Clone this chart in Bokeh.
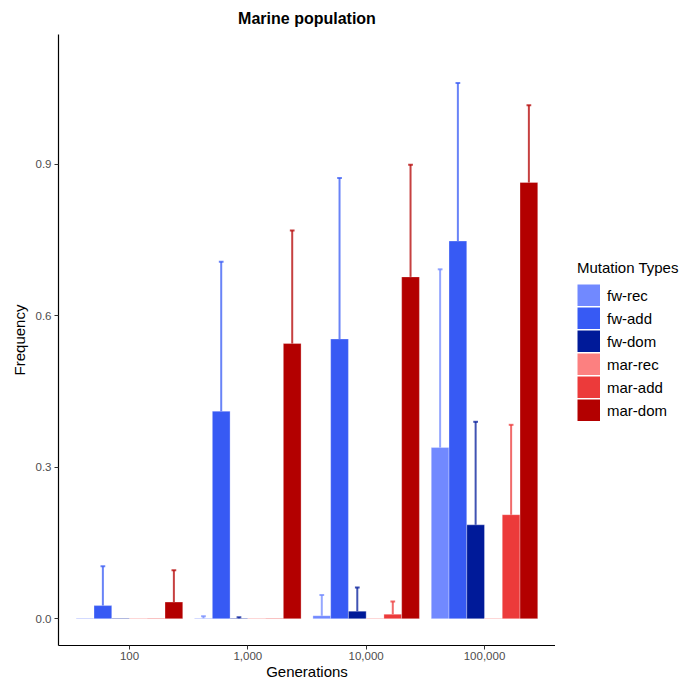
from bokeh.plotting import figure
from bokeh.layouts import row
from bokeh.models import Range1d, FixedTicker, ColumnDataSource, Legend, LegendItem
from bokeh.embed import file_html
from bokeh.resources import INLINE

# ---------------- data ----------------
generations = ["100", "1,000", "10,000", "100,000"]
types = ["fw-rec", "fw-add", "fw-dom", "mar-rec", "mar-add", "mar-dom"]
colors = ["#7189ff", "#375af4", "#001a99", "#fc8080", "#ec3a3a", "#b30000"]

fw_rec_mean = [0.001, 0.001, 0.006, 0.339]
fw_rec_sd = [0.0, 0.004, 0.041, 0.353]
fw_add_mean = [0.026, 0.411, 0.554, 0.748]
fw_add_sd = [0.078, 0.296, 0.319, 0.313]
fw_dom_mean = [0.001, 0.001, 0.015, 0.186]
fw_dom_sd = [0.0, 0.002, 0.047, 0.204]
mar_rec_mean = [0.001, 0.001, 0.001, 0.001]
mar_rec_sd = [0.0, 0.0, 0.0, 0.0]
mar_add_mean = [0.001, 0.001, 0.009, 0.206]
mar_add_sd = [0.0, 0.0, 0.025, 0.178]
mar_dom_mean = [0.033, 0.545, 0.677, 0.864]
mar_dom_sd = [0.063, 0.224, 0.222, 0.153]

means = [fw_rec_mean, fw_add_mean, fw_dom_mean, mar_rec_mean, mar_add_mean, mar_dom_mean]
sds = [fw_rec_sd, fw_add_sd, fw_dom_sd, mar_rec_sd, mar_add_sd, mar_dom_sd]

y_ticks = [0.0, 0.3, 0.6, 0.9]

FONT = "Liberation Sans"

# ---------------- main figure ----------------
p = figure(width=555, height=682, output_backend="svg", toolbar_location=None,
           x_range=Range1d(0.4, 4.6), y_range=Range1d(-0.053, 1.157),
           min_border_left=58, min_border_right=0, min_border_top=34,
           min_border_bottom=36, title="Marine population")
p.outline_line_color = None
p.xgrid.visible = False
p.ygrid.visible = False
p.background_fill_color = "white"

p.title.text_font = FONT
p.title.text_font_size = "16px"
p.title.text_font_style = "bold"
p.title.text_color = "black"
p.title.align = "center"
p.title.standoff = 15

n_types = len(types)
bar_w = 0.9 / n_types
group_x = list(range(1, len(generations) + 1))

sources = []
for i, t in enumerate(types):
    off = (i - (n_types - 1) / 2) * bar_w
    xs = [g + off for g in group_x]
    src = ColumnDataSource(dict(x=xs, top=means[i]))
    sources.append(src)
    p.vbar(x="x", top="top", bottom=0, width=bar_w, source=src,
           fill_color=colors[i], line_color="white", line_width=0.6, line_alpha=0.5)

for i, t in enumerate(types):
    off = (i - (n_types - 1) / 2) * bar_w
    ex, e0, e1 = [], [], []
    for g, m, s in zip(group_x, means[i], sds[i]):
        if s > 0:
            ex.append(g + off)
            e0.append(m)
            e1.append(m + s)
    if not ex:
        continue
    esrc = ColumnDataSource(dict(x=ex, y0=e0, y1=e1,
                                 xl=[x - 0.02 for x in ex], xr=[x + 0.02 for x in ex]))
    p.segment(x0="x", y0="y0", x1="x", y1="y1", source=esrc,
              line_color=colors[i], line_alpha=0.75, line_width=2)
    p.segment(x0="xl", y0="y1", x1="xr", y1="y1", source=esrc,
              line_color=colors[i], line_alpha=0.75, line_width=2)

# ---------------- axes ----------------
p.xaxis.ticker = FixedTicker(ticks=group_x)
p.xaxis.major_label_overrides = {g: lab for g, lab in zip(group_x, generations)}
p.yaxis.ticker = FixedTicker(ticks=y_ticks)
p.yaxis.major_label_overrides = {v: f"{v:.1f}" for v in y_ticks}

for ax in (p.xaxis, p.yaxis):
    ax.axis_line_color = "black"
    ax.axis_line_width = 1.2
    ax.major_tick_line_color = "#333333"
    ax.major_tick_in = 0
    ax.major_tick_out = 4
    ax.minor_tick_line_color = None
    ax.major_label_text_font = FONT
    ax.major_label_text_font_size = "11.5px"
    ax.major_label_text_color = "#4d4d4d"
    ax.axis_label_text_font = FONT
    ax.axis_label_text_font_size = "15px"
    ax.axis_label_text_font_style = "normal"
    ax.axis_label_text_color = "black"

p.xaxis.major_label_standoff = 2
p.yaxis.major_label_standoff = 3
p.xaxis.axis_label = "Generations"
p.xaxis.axis_label_standoff = 0
p.yaxis.axis_label = "Frequency"
p.yaxis.axis_label_standoff = 5

# ---------------- legend panel ----------------
lf = figure(width=124, height=682, output_backend="svg", toolbar_location=None,
            x_range=Range1d(100, 101), y_range=Range1d(100, 101),
            x_axis_location=None, y_axis_location=None,
            min_border_left=0, min_border_right=0, min_border_top=0, min_border_bottom=0)
lf.outline_line_color = None
lf.xgrid.visible = False
lf.ygrid.visible = False

items = []
for i, t in enumerate(types):
    # thick line renderer (outside the view) gives solid, full-size legend keys
    r = lf.line(x="x", y="top", source=sources[i], line_color=colors[i],
                line_width=22, line_cap="butt")
    items.append(LegendItem(label=t, renderers=[r]))

legend = Legend(items=items, location=(22, 224), title="Mutation Types")
legend.title_text_font = FONT
legend.title_text_font_size = "15px"
legend.title_text_font_style = "normal"
legend.title_text_color = "black"
legend.title_standoff = 8
legend.label_text_font = FONT
legend.label_text_font_size = "15px"
legend.label_text_color = "black"
legend.glyph_width = 23
legend.glyph_height = 22
legend.label_height = 22
legend.spacing = 1
legend.padding = 0
legend.margin = 0
legend.label_standoff = 7
legend.border_line_color = None
legend.background_fill_alpha = 0
lf.add_layout(legend, "center")

layout = row(p, lf, spacing=0)
open("out.html", "w").write(file_html(layout, INLINE))
